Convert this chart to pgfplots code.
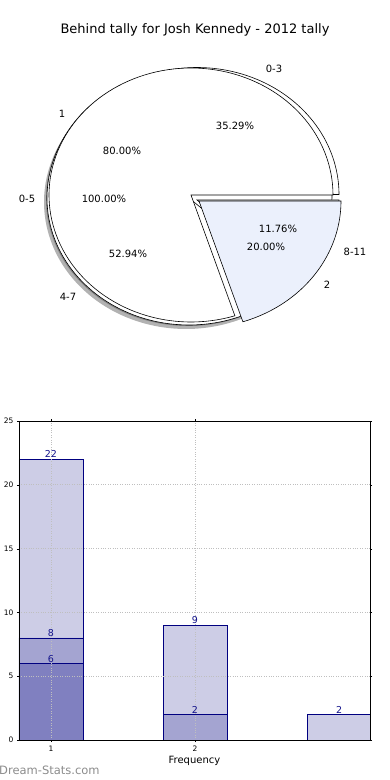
\documentclass[border=0pt]{standalone}
\usepackage{pgfplots}
\pgfplotsset{compat=1.18}
\usepackage{fontspec}
\setmainfont{DejaVu Sans}
\definecolor{pieblue}{RGB}{235,240,252}
\definecolor{navyedge}{RGB}{0,0,128}
\definecolor{navytext}{RGB}{20,20,140}
\definecolor{barA}{RGB}{205,205,230}
\definecolor{barB}{RGB}{164,164,209}
\definecolor{barC}{RGB}{128,128,192}
\definecolor{wm}{RGB}{140,140,140}
% wedge: options, cx, cy, start angle, end angle (angles = cumulative percent * 3.6)
\newcommand{\piewedge}[5]{\addplot[#1,domain=#4:#5,samples=120,variable=\t] ({#2+142*cos(\t)},{#3-127*sin(\t)}) -- (axis cs:#2,#3) -- cycle;}
\begin{document}
\begin{tikzpicture}
\useasboundingbox (0,0) rectangle (390pt,780pt);
% ---------------- pie part ----------------
\begin{axis}[at={(0pt,780pt)}, anchor=north west, scale only axis,
  width=390pt, height=390pt, xmin=0, xmax=390, ymin=0, ymax=390,
  y dir=reverse, hide axis, clip=false]
% shadows
\addplot[draw=none, fill=black!30, domain=0:360, samples=180, variable=\t] ({186+142*cos(\t)},{202-127*sin(\t)}) -- cycle;
\addplot[draw=none, fill=black!50, domain=0:360, samples=180, variable=\t] ({188+142*cos(\t)},{199-127*sin(\t)}) -- cycle;
% pie 3: 0-5 = 100%
\addplot[draw=black, fill=white, line width=0.6pt, domain=0:360, samples=180, variable=\t] ({190+142*cos(\t)},{196-127*sin(\t)}) -- cycle;
% pie 1: 0-3 35.29, 4-7 52.94, 8-11 11.76
\piewedge{draw=black,fill=white,line width=0.6pt}{197}{194.5}{0}{35.29*3.6}
\piewedge{draw=black,fill=white,line width=0.6pt}{189}{198}{35.29*3.6}{88.23*3.6}
\piewedge{draw=black,fill=white,line width=0.6pt}{197}{200}{88.23*3.6}{360}
% pie 2: 1 80, 2 20
\piewedge{draw=black,fill=white,line width=0.6pt}{191}{195}{0}{80*3.6}
\piewedge{draw=black,fill=pieblue,line width=0.6pt}{199}{201}{80*3.6}{360}
% labels
\begin{scope}[every node/.style={font=\fontsize{10}{12}\selectfont, inner sep=0pt}]
\node at (axis cs:195,30) {\fontsize{13}{15}\selectfont Behind tally for Josh Kennedy - 2012 tally};
\node at (axis cs:274,69) {0-3};
\node at (axis cs:62,114) {1};
\node at (axis cs:27,199) {0-5};
\node at (axis cs:68,297) {4-7};
\node at (axis cs:355,252) {8-11};
\node at (axis cs:327,285) {2};
\node at (axis cs:235,126) {35.29\%};
\node at (axis cs:122,151) {80.00\%};
\node at (axis cs:104,199) {100.00\%};
\node at (axis cs:128,254) {52.94\%};
\node at (axis cs:278,229) {11.76\%};
\node at (axis cs:266,247) {20.00\%};
\end{scope}
\end{axis}
% ---------------- bar part ----------------
\begin{axis}[at={(19pt,40pt)}, anchor=south west, scale only axis,
  width=351pt, height=319pt,
  xmin=0.778, xmax=3.215, ymin=0, ymax=25,
  xtick={1,2}, ytick={0,5,10,15,20,25},
  tick label style={font=\fontsize{7.5}{8}\selectfont},
  /pgf/number format/assume math mode=true,
  xmajorgrids, ymajorgrids,
  major grid style={dotted, gray!50, line width=0.9pt},
  axis on top, tick align=outside, major tick length=2pt,
  tick style={black},
  xlabel={Frequency}, xlabel style={font=\fontsize{10}{12}\selectfont, inner sep=0pt, yshift=-2pt},
  ybar, bar width=0.444,
  nodes near coords,
  every node near coord/.append style={font=\fontsize{9.5}{10}\selectfont, text=navytext, inner sep=1pt},
  ]
\addplot[bar shift=0pt, fill=barA, draw=navyedge, line width=0.6pt] coordinates {(1,22) (2,9) (3,2)};
\addplot[bar shift=0pt, fill=barB, draw=navyedge, line width=0.6pt] coordinates {(1,8) (2,2)};
\addplot[bar shift=0pt, fill=barC, draw=navyedge, line width=0.6pt] coordinates {(1,6)};
\end{axis}
\node[anchor=west, text=wm, font=\fontsize{11.5}{13}\selectfont, inner sep=0pt] at (-1pt,10pt) {Dream-Stats.com};
\end{tikzpicture}
\end{document}
